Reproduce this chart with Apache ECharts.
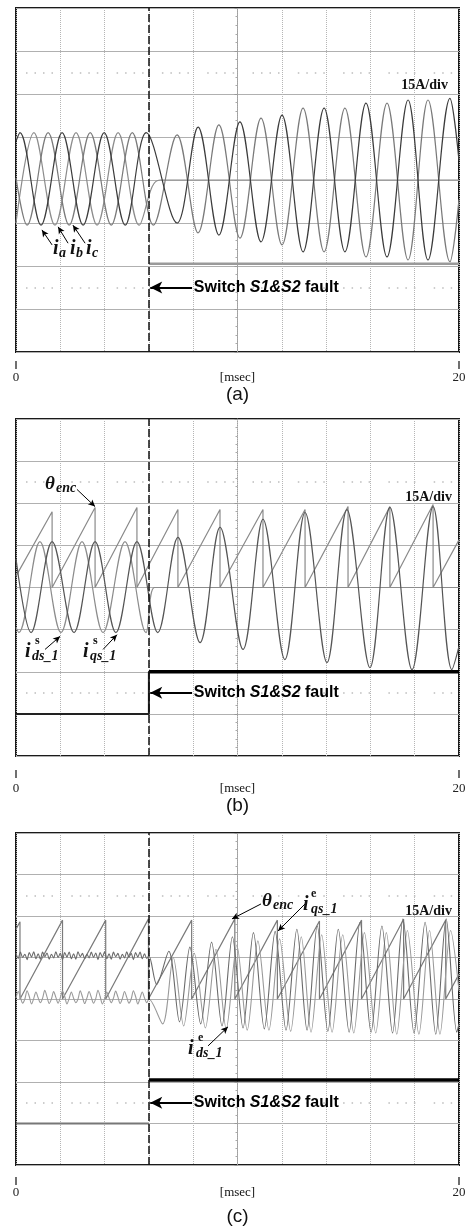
<!DOCTYPE html>
<html>
<head>
<meta charset="utf-8">
<script src="https://cdn.jsdelivr.net/npm/echarts/dist/echarts.min.js"></script>
<style>
html,body{margin:0;padding:0;background:#fff;}
#chart{width:469px;height:1230px;}
</style>
</head>
<body>
<div id="chart"></div>
<script>
// time in ms (0..20, 2 ms/div), amplitude in divisions (15A/div, -4..4)
var xEndLabels = ['0', '20'];
var xUnit = '[msec]';
var scaleText = '15A/div';
var panelTags = ['(a)', '(b)', '(c)'];
var faultT = 6;

// ---- (a) phase currents
var ia = [[0,0.9],[0.18,1.1],[1.13,-1.05],[2.08,1.1],[3.03,-1.05],[3.98,1.1],[4.93,-1.05],[5.88,1.1],[7.27,-1.0],[8.22,1.23],[9.16,-1.28],[10.11,1.35],[11.06,-1.44],[12.01,1.51],[12.96,-1.67],[13.91,1.67],[14.85,-1.67],[15.8,1.79],[16.75,-1.79],[17.7,1.86],[18.6,-1.86],[19.59,1.9],[20,0.45]];
var ib = [[0,-1.0],[0.81,1.1],[1.76,-1.05],[2.71,1.1],[3.66,-1.05],[4.61,1.1],[5.56,-1.05],[6.15,-0.15],[6.5,0],[9,0],[20,0]];
var ic = [[0,0.05],[0.5,-1.05],[1.45,1.1],[2.4,-1.05],[3.35,1.1],[4.3,-1.05],[5.25,1.1],[6.2,-1.05],[7.27,1.05],[8.22,-1.23],[9.16,1.28],[10.11,-1.35],[11.06,1.44],[12.01,-1.51],[12.96,1.67],[13.91,-1.67],[14.85,1.67],[15.8,-1.79],[16.75,1.79],[17.7,-1.86],[18.6,1.86],[19.59,-1.9],[20,-0.45]];
var swA = [[6,-1.95],[20,-1.95]];

// ---- (b) stationary frame currents + encoder angle
var thetaB = [[0,0.27],[1.63,1.8],[1.63,0],[3.57,1.9],[3.57,0],[5.46,1.9],[5.46,0],[7.31,1.85],[7.31,0],[9.21,1.85],[9.21,0],[11.15,1.85],[11.15,0],[13.05,1.85],[13.05,0],[14.99,1.92],[14.99,0],[16.88,1.92],[16.88,0],[18.83,1.97],[18.83,0],[20,1.13]];
var idsS = [[0,-0.95],[0.13,-1.07],[1.08,1.09],[2.03,-1.07],[2.98,1.09],[3.93,-1.07],[4.92,1.09],[5.87,-1.07],[6.25,0],[7,0],[20,0]];
var iqsS = [[0,0.68],[0.68,-1.07],[1.63,1.09],[2.62,-1.07],[3.57,1.09],[4.51,-1.07],[5.46,1.09],[6.4,-1.07],[7.31,1.19],[8.31,-1.31],[9.21,1.43],[10.25,-1.47],[11.15,1.62],[12.14,-1.71],[13.05,1.78],[14.04,-1.78],[14.94,1.85],[15.98,-1.9],[16.88,1.9],[17.88,-1.95],[18.83,1.92],[19.68,-1.95],[20,-1.4]];
var swBpre = [[0,-3],[6,-3],[6,-2]];
var swBpost = [[6,-2],[20,-2]];

// ---- (c) synchronous frame currents + encoder angle
var thetaC = [[0,1.68],[0.18,1.86],[0.18,0],[2.1,1.9],[2.1,0],[4.05,1.9],[4.05,0],[5.98,1.93],[5.98,0],[7.93,1.9],[7.93,0],[9.88,1.93],[9.88,0],[11.8,1.9],[11.8,0],[13.7,1.88],[13.7,0],[15.6,1.9],[15.6,0],[17.5,1.92],[17.5,0],[19.4,1.9],[19.4,0],[20,0.6]];
var ripStep = 0.1;
var iqsEpre = [1.10,0.98,1.13,1.00,1.08,0.95,1.12,1.01,1.14,0.97,
  1.09,0.96,1.13,1.02,1.11,0.96,1.08,0.99,1.14,1.00,
  1.10,0.95,1.12,1.01,1.13,0.97,1.09,0.96,1.14,1.02,
  1.10,0.97,1.08,0.99,1.13,1.00,1.11,0.95,1.12,1.01,
  1.14,0.97,1.09,0.96,1.13,1.02,1.10,0.96,1.08,0.99,
  1.14,1.00,1.10,0.95,1.12,1.01,1.13,0.97,1.09,0.98,1.04];
var idsEpre = [0.02,0.18,0.04,-0.10,0.00,0.20,0.06,-0.12,0.01,0.17,
  0.03,-0.09,0.02,0.21,0.05,-0.11,0.00,0.18,0.04,-0.10,
  0.03,0.19,0.06,-0.12,0.01,0.17,0.02,-0.09,0.00,0.20,
  0.05,-0.11,0.02,0.18,0.04,-0.10,0.01,0.21,0.06,-0.12,
  0.00,0.17,0.03,-0.09,0.02,0.19,0.05,-0.11,0.01,0.18,
  0.04,-0.10,0.00,0.20,0.06,-0.12,0.02,0.17,0.03,-0.09,0.00];
var iqsEpost = [[6.35,0.35],[6.9,1.15],[7.38,-0.55],[7.85,1.25],[8.34,-0.6],[8.83,1.37],[9.3,-0.65],[9.77,1.5],[10.25,-0.7],[10.72,1.6],[11.21,-0.72],[11.7,1.63],[12.19,-0.75],[12.68,1.68],[13.14,-0.75],[13.6,1.76],[14.08,-0.78],[14.55,1.68],[15.04,-0.8],[15.53,1.85],[16.03,-0.8],[16.52,1.76],[17.0,-0.82],[17.47,1.93],[17.97,-0.82],[18.47,1.85],[18.95,-0.85],[19.42,1.93],[19.9,-0.8],[20,-0.6]];
var idsEpost = [[6.62,-0.6],[7.1,1.0],[7.57,-0.65],[8.05,1.1],[8.55,-0.7],[9.03,1.2],[9.49,-0.72],[9.97,1.3],[10.44,-0.75],[10.92,1.4],[11.42,-0.75],[11.9,1.45],[12.4,-0.78],[12.88,1.5],[13.32,-0.8],[13.8,1.55],[14.27,-0.8],[14.75,1.55],[15.25,-0.82],[15.73,1.6],[16.24,-0.82],[16.72,1.6],[17.19,-0.85],[17.67,1.65],[18.19,-0.85],[18.67,1.65],[19.14,-0.85],[19.62,1.65],[20,0.2]];
var swCpre = [[0,-3],[6,-3]];
var swCpost = [[6,-1.95],[20,-1.95]];

function withTime(vals) {
  return vals.map(function (v, k) { return [+(k * ripStep).toFixed(2), v]; });
}

// layout
var grids = [
  {left: 16, top: 8, width: 443, height: 344},
  {left: 16, top: 419, width: 443, height: 337},
  {left: 16, top: 833, width: 443, height: 332}
];
var tickOffset = [9, 14, 12];
var labelMargin = [10, 12, 9];
var tagY = [395, 806, 1217];

var SERIF = '"Liberation Serif", "Times New Roman", serif';
var SANS = '"Liberation Sans", Arial, sans-serif';

var chart = echarts.init(document.getElementById('chart'));

var xAxes = [], yAxes = [], series = [];
grids.forEach(function (g, i) {
  xAxes.push({
    gridIndex: i, type: 'value', min: 0, max: 20, interval: 2, position: 'top',
    axisLine: {show: false}, axisTick: {show: false}, axisLabel: {show: false},
    splitLine: {show: true, lineStyle: {color: '#b5b5b5', width: 1, type: 'dotted'}}
  });
  xAxes.push({
    gridIndex: i, type: 'value', min: 0, max: 20, interval: 20, position: 'bottom',
    offset: tickOffset[i],
    axisLine: {show: false}, axisTick: {show: false},
    axisLabel: {show: true, margin: labelMargin[i], fontFamily: SERIF, fontSize: 13, color: '#222',
      formatter: function (v) { return v === 0 ? xEndLabels[0] : (v === 20 ? xEndLabels[1] : ''); }},
    splitLine: {show: false}
  });
  yAxes.push({
    gridIndex: i, type: 'value', min: -4, max: 4, interval: 1,
    axisLine: {show: false}, axisTick: {show: false}, axisLabel: {show: false},
    splitLine: {show: true, lineStyle: {color: '#b0b0b0', width: 1.2}}
  });
  yAxes.push({
    gridIndex: i, type: 'value', min: -4, max: 4, interval: 1, position: 'left',
    offset: -g.width / 2,
    axisLine: {show: true, lineStyle: {color: '#a0a0a0', width: 1, type: 'dotted'}},
    axisTick: {show: true, length: 3, lineStyle: {color: '#999'}},
    minorTick: {show: true, splitNumber: 5, length: 2, lineStyle: {color: '#aaa'}},
    axisLabel: {show: false}, splitLine: {show: false}
  });
});

function line(g, data, color, width, smooth, extra) {
  var s = {
    type: 'line', xAxisIndex: 2 * g, yAxisIndex: 2 * g, data: data,
    symbol: 'none', smooth: smooth, silent: true, animation: false,
    lineStyle: {color: color, width: width}
  };
  for (var k in extra) s[k] = extra[k];
  return s;
}

function guides() {
  return {
    silent: true, symbol: 'none', animation: false, label: {show: false},
    data: [
      {xAxis: faultT, lineStyle: {color: '#111', width: 1.5, type: [8, 3]}},
      {yAxis: 2.5, lineStyle: {color: '#bdbdbd', width: 1.5, type: [1.5, 7, 1.5, 7, 1.5, 7, 1.5, 18.3], dashOffset: 35.3}},
      {yAxis: -2.5, lineStyle: {color: '#bdbdbd', width: 1.5, type: [1.5, 7, 1.5, 7, 1.5, 7, 1.5, 18.3], dashOffset: 35.3}}
    ]
  };
}
function bigArrow() {
  return {
    silent: true, animation: false, symbol: ['none', 'arrow'], symbolSize: [9, 12],
    label: {show: false}, lineStyle: {color: '#000', width: 2, type: 'solid'},
    data: [[{coord: [7.95, -2.5]}, {coord: [6.06, -2.5]}]]
  };
}
function smallArrows(list) {
  return {
    silent: true, animation: false, symbol: ['none', 'arrow'], symbolSize: [5, 7],
    label: {show: false}, lineStyle: {color: '#000', width: 1, type: 'solid'},
    data: list.map(function (a) { return [{coord: a[0]}, {coord: a[1]}]; })
  };
}

// (a)
series.push(line(0, swA, '#9a9a9a', 2.5, false, {markLine: guides()}));
series.push(line(0, ib, '#8c8c8c', 1.2, 0.35));
series.push(line(0, ic, '#7a7a7a', 1.2, 0.35, {markLine: bigArrow()}));
series.push(line(0, ia, '#3c3c3c', 1.2, 0.35, {markLine: smallArrows([
  [[1.63, -1.51], [1.17, -1.16]], [[2.35, -1.47], [1.9, -1.09]], [[3.12, -1.47], [2.57, -1.05]]
])}));

// (b)
series.push(line(1, swBpre, '#222', 2, false, {markLine: guides()}));
series.push(line(1, swBpost, '#000', 3.5, false, {markLine: bigArrow()}));
series.push(line(1, thetaB, '#8a8a8a', 1.2, false, {markLine: smallArrows([
  [[2.75, 2.33], [3.57, 1.92]], [[1.31, -1.47], [1.99, -1.16]], [[3.93, -1.47], [4.56, -1.12]]
])}));
series.push(line(1, idsS, '#8c8c8c', 1.2, 0.35));
series.push(line(1, iqsS, '#555', 1.2, 0.35));

// (c)
series.push(line(2, swCpre, '#777', 2, false, {markLine: guides()}));
series.push(line(2, swCpost, '#000', 3.5, false, {markLine: bigArrow()}));
series.push(line(2, thetaC, '#7a7a7a', 1.2, false, {markLine: smallArrows([
  [[11.06, 2.29], [9.75, 1.93]], [[13.05, 2.29], [11.83, 1.64]], [[8.67, -1.13], [9.57, -0.67]]
])}));
series.push(line(2, withTime(idsEpre).concat(idsEpost), '#9a9a9a', 1.1, 0.3));
series.push(line(2, withTime(iqsEpre).concat(iqsEpost), '#6a6a6a', 1.1, 0.3));

chart.setOption({
  animation: false,
  grid: grids.map(function (g) {
    return {left: g.left, top: g.top, width: g.width, height: g.height, show: true,
      borderColor: '#1a1a1a', borderWidth: 2, backgroundColor: 'transparent'};
  }),
  xAxis: xAxes, yAxis: yAxes, series: series
});

// ---- text annotations (anchored in data coordinates)
function P(g, t, v) { return chart.convertToPixel({gridIndex: g}, [t, v]); }
function txt(x, y, text, font, align) {
  return {type: 'text', x: x, y: y, silent: true, z: 100,
    style: {text: text, font: font, fill: '#111', textAlign: align || 'left', align: align || 'left',
      textVerticalAlign: 'middle', verticalAlign: 'middle'}};
}
var fI = 'italic bold 20px ' + SERIF;
var fSub = 'italic bold 14px ' + SERIF;
var fSup = 'bold 12px ' + SERIF;
var fTheta = 'italic bold 19px ' + SERIF;
var fScale = 'bold 14px ' + SERIF;
var fSwitch = 'bold 16px ' + SANS;
var fSwitchI = 'italic bold 16px ' + SANS;

var els = [];
function mathLabel(g, t, v, sub, sup, subDx, supDx) {
  var p = P(g, t, v);
  els.push(txt(p[0], p[1], 'i', fI));
  els.push(txt(p[0] + subDx, p[1] + 5, sub, fSub));
  if (sup) els.push(txt(p[0] + supDx, p[1] - 11, sup, fSup));
}
function thetaLabel(g, t, v) {
  var p = P(g, t, v);
  els.push(txt(p[0], p[1], 'θ', fTheta));
  els.push(txt(p[0] + 11, p[1] + 4, 'enc', fSub));
}
function switchLabel(g) {
  var p = P(g, 8.03, -2.5);
  els.push({type: 'text', x: p[0], y: p[1], silent: true, z: 100,
    style: {rich: {b: {font: fSwitch, fill: '#000'}, s: {font: fSwitchI, fill: '#000'}},
      text: '{b|Switch }{s|S1&S2}{b| fault}', textVerticalAlign: 'middle', verticalAlign: 'middle'}});
}

// (a)
mathLabel(0, 1.67, -1.6, 'a', null, 6);
mathLabel(0, 2.44, -1.6, 'b', null, 6);
mathLabel(0, 3.16, -1.6, 'c', null, 6);
// (b)
thetaLabel(1, 1.31, 2.45);
mathLabel(1, 0.41, -1.52, 'ds_1', 's', 7, 10);
mathLabel(1, 3.02, -1.52, 'qs_1', 's', 7, 10);
// (c)
thetaLabel(2, 11.11, 2.36);
mathLabel(2, 12.96, 2.27, 'qs_1', 'e', 8, 8);
mathLabel(2, 7.77, -1.2, 'ds_1', 'e', 8, 10);

var scaleAnchor = [[19.5, 2.19], [19.68, 2.14], [19.68, 2.12]];
grids.forEach(function (g, i) {
  var p = P(i, scaleAnchor[i][0], scaleAnchor[i][1]);
  els.push(txt(p[0], p[1], scaleText, fScale, 'right'));
  switchLabel(i);
  var c = P(i, 10, -4);
  els.push(txt(c[0], c[1] + tickOffset[i] + labelMargin[i] + 7, xUnit, '13px ' + SERIF, 'center'));
  els.push(txt(c[0], tagY[i], panelTags[i], '19px ' + SANS, 'center'));
  [0, 20].forEach(function (t) {
    var q = P(i, t, -4);
    var y0 = q[1] + tickOffset[i];
    els.push({type: 'line', silent: true, z: 100,
      shape: {x1: q[0], y1: y0, x2: q[0], y2: y0 + 8},
      style: {stroke: '#222', lineWidth: 1.3}});
  });
});

chart.setOption({graphic: {elements: els}});
</script>
</body>
</html>
